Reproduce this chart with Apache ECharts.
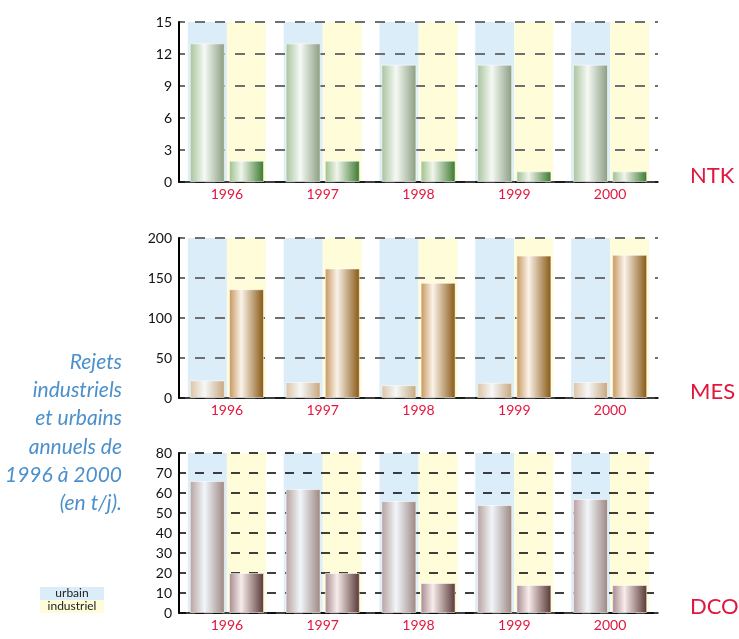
<!DOCTYPE html>
<html>
<head>
<meta charset="utf-8">
<style>
  html, body { margin: 0; padding: 0; background: #ffffff; }
  #chart { width: 739px; height: 639px; }
</style>
<script src="https://cdn.jsdelivr.net/npm/echarts@6/dist/echarts.min.js"></script>
</head>
<body>
<div id="chart"></div>
<script>
// Annual discharges (t/j), 1996–2000
const years = ['1996', '1997', '1998', '1999', '2000'];

const ntkUrbain = [13, 13, 11, 11, 11];
const ntkIndustriel = [2, 2, 2, 1, 1];
const ntkTicks = [0, 3, 6, 9, 12, 15];

const mesUrbain = [22, 20, 16, 19, 20];
const mesIndustriel = [136, 162, 144, 178, 179];
const mesTicks = [0, 50, 100, 150, 200];

const dcoUrbain = [66, 62, 56, 54, 57];
const dcoIndustriel = [20, 20, 15, 14, 14];
const dcoTicks = [0, 10, 20, 30, 40, 50, 60, 70, 80];

const panelNames = ['NTK', 'MES', 'DCO'];
const legendNames = ['urbain', 'industriel'];
const sideLines = ['Rejets', 'industriels', 'et urbains', 'annuels de', '1996 à 2000', '(en t/j).'];

const RED = '#e2173d';
const BLUE_BAND = '#dcedfa';
const YELLOW_BAND = '#fefcd9';
const FONT = 'Lato, "DejaVu Sans", sans-serif';

function grad(stops) {
  return new echarts.graphic.LinearGradient(0, 0, 1, 0,
    stops.map(s => ({ offset: s[0], color: s[1] })));
}

const panels = [
  {
    name: panelNames[0], urbain: ntkUrbain, industriel: ntkIndustriel, ticks: ntkTicks,
    top: 22, grid: { color: '#6f6f6f', width: 2, type: [10, 10], offset: 4 },
    urbainColor: grad([[0, '#a6c39a'], [0.42, '#f6f9f4'], [1, '#889c80']]),
    industrielColor: grad([[0, '#9cbf8a'], [0.35, '#f0f5ec'], [1, '#3a772c']])
  },
  {
    name: panelNames[1], urbain: mesUrbain, industriel: mesIndustriel, ticks: mesTicks,
    top: 238, grid: { color: '#6f6f6f', width: 2, type: [10, 10], offset: 4 },
    urbainColor: grad([[0, '#dcc2a2'], [0.42, '#f6f8f8'], [1, '#c6a67c']]),
    industrielColor: grad([[0, '#c5945a'], [0.35, '#fbf3ea'], [1, '#865610']])
  },
  {
    name: panelNames[2], urbain: dcoUrbain, industriel: dcoIndustriel, ticks: dcoTicks,
    top: 453, grid: { color: '#111111', width: 1.6, type: [9, 9], offset: 2 },
    urbainColor: grad([[0, '#b89f9f'], [0.42, '#f1f6fa'], [1, '#9c8581']]),
    industrielColor: grad([[0, '#a4898c'], [0.35, '#f8ecec'], [1, '#553532']])
  }
];

const grids = [], xAxes = [], yAxes = [], series = [], titles = [];

panels.forEach((p, i) => {
  const tMin = p.ticks[0];
  const tMax = p.ticks[p.ticks.length - 1];
  const tInt = p.ticks[1] - p.ticks[0];

  grids.push({ left: 179, right: 81, top: p.top, height: 160 });

  // visible category axis for the data bars
  xAxes.push({
    type: 'category', gridIndex: i, data: years,
    axisLine: { show: true, lineStyle: { color: '#000', width: 1.5 } },
    axisTick: { show: false },
    axisLabel: { color: RED, fontSize: 14, fontFamily: FONT, margin: 5 },
    splitLine: { show: false }
  });
  // hidden twin axis carrying the coloured background bands
  xAxes.push({
    type: 'category', gridIndex: i, data: years, show: false
  });

  yAxes.push({
    type: 'value', gridIndex: i, min: tMin, max: tMax, interval: tInt,
    axisLine: { show: true, lineStyle: { color: '#000', width: 2 } },
    axisTick: { show: false },
    axisLabel: { color: '#111', fontSize: 14, fontFamily: FONT, margin: 7 },
    splitLine: {
      show: true,
      lineStyle: { color: p.grid.color, width: p.grid.width, type: p.grid.type, dashOffset: p.grid.offset }
    }
  });

  const bandVals = years.map(() => tMax);
  series.push({
    type: 'bar', name: legendNames[0], xAxisIndex: 2 * i + 1, yAxisIndex: i,
    data: bandVals, barWidth: 39, barGap: '0%', z: -1, silent: true,
    itemStyle: { color: BLUE_BAND }
  });
  series.push({
    type: 'bar', name: legendNames[1], xAxisIndex: 2 * i + 1, yAxisIndex: i,
    data: bandVals, barWidth: 39, barGap: '0%', z: -1, silent: true,
    itemStyle: { color: YELLOW_BAND }
  });

  series.push({
    type: 'bar', name: p.name + ' ' + legendNames[0], xAxisIndex: 2 * i, yAxisIndex: i,
    data: p.urbain, barWidth: 35, barGap: '12%', z: 3,
    itemStyle: { color: p.urbainColor, borderColor: 'rgba(255,255,255,0.55)', borderWidth: 1 }
  });
  series.push({
    type: 'bar', name: p.name + ' ' + legendNames[1], xAxisIndex: 2 * i, yAxisIndex: i,
    data: p.industriel, barWidth: 35, barGap: '12%', z: 3,
    itemStyle: { color: p.industrielColor, borderColor: 'rgba(255,255,255,0.55)', borderWidth: 1 }
  });

  titles.push({
    text: p.name, left: 685, top: p.top + 160 - 22,
    textStyle: { color: RED, fontSize: 22, fontWeight: 'normal', fontFamily: FONT }
  });
});

const graphics = [];

// right-aligned caption on the left side
sideLines.forEach((line, k) => {
  graphics.push({
    type: 'text', x: 122, y: 362 + k * 28.3,
    style: {
      text: line, fill: '#4b90cc', font: 'italic 21px ' + FONT,
      textAlign: 'right', textVerticalAlign: 'middle', align: 'right', verticalAlign: 'middle'
    }
  });
});

// colour key
[BLUE_BAND, YELLOW_BAND].forEach((c, k) => {
  graphics.push({ type: 'rect', x: 40, y: 587 + k * 13, shape: { width: 64, height: 13 }, style: { fill: c } });
  graphics.push({
    type: 'text', x: 72, y: 593.5 + k * 13,
    style: {
      text: legendNames[k], fill: '#222', font: '12px ' + FONT,
      textAlign: 'center', textVerticalAlign: 'middle', align: 'center', verticalAlign: 'middle'
    }
  });
});

const chart = echarts.init(document.getElementById('chart'), null, { renderer: 'canvas' });
chart.setOption({
  animation: false,
  backgroundColor: '#ffffff',
  title: titles,
  grid: grids,
  xAxis: xAxes,
  yAxis: yAxes,
  series: series,
  graphic: graphics
});
</script>
</body>
</html>
